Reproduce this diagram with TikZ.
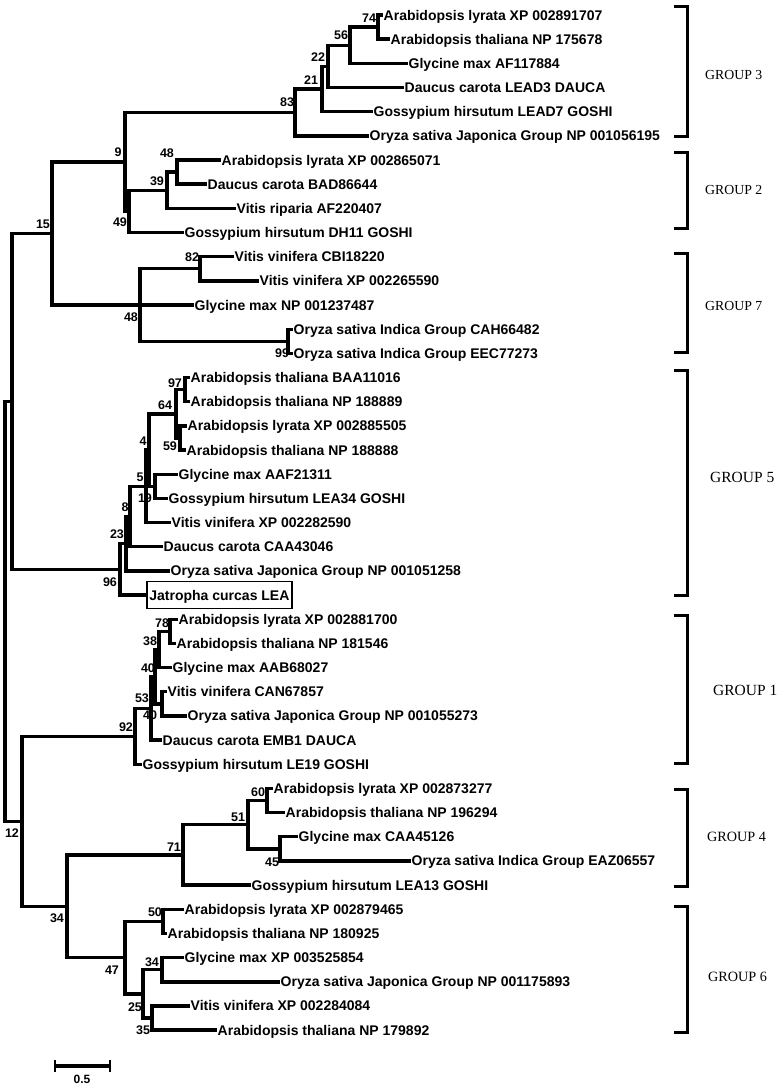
\documentclass[tikz,border=0pt]{standalone}
\usepackage{fontspec}
\setmainfont{Liberation Serif}
\newfontfamily\arialfont{Liberation Sans}

\begin{document}
\begin{tikzpicture}[x=1pt, y=-1pt,
    branch/.style={line width=3.4pt, line join=miter},
    bracket/.style={line width=3pt},
    tip/.style={anchor=west, inner sep=0.5pt, text height=10pt, text depth=0pt,
        font=\arialfont\bfseries\fontsize{14}{16}\selectfont},
    boot/.style={inner sep=0pt, font=\arialfont\bfseries\fontsize{12.5}{14}\selectfont},
    grp/.style={anchor=west, inner sep=0pt}]
    \useasboundingbox (0,0) rectangle (782,1087);
    % leaves: row / start of label / label
    \foreach \i/\xs/\lab in {1/383/Arabidopsis lyrata XP 002891707,
        2/390/Arabidopsis thaliana NP 175678, 3/408/Glycine max AF117884,
        4/404/Daucus carota LEAD3 DAUCA, 5/373/Gossypium hirsutum LEAD7 GOSHI,
        6/369/Oryza sativa Japonica Group NP 001056195,
        7/221/Arabidopsis lyrata XP 002865071, 8/207/Daucus carota BAD86644,
        9/236/Vitis riparia AF220407, 10/184/Gossypium hirsutum DH11 GOSHI,
        11/234/Vitis vinifera CBI18220, 12/259/Vitis vinifera XP 002265590,
        13/194/Glycine max NP 001237487, 14/293/Oryza sativa Indica Group CAH66482,
        15/293/Oryza sativa Indica Group EEC77273,
        16/190/Arabidopsis thaliana BAA11016, 17/190/Arabidopsis thaliana NP 188889,
        18/187/Arabidopsis lyrata XP 002885505, 19/186/Arabidopsis thaliana NP 188888,
        20/178/Glycine max AAF21311, 21/168/Gossypium hirsutum LEA34 GOSHI,
        22/171/Vitis vinifera XP 002282590, 23/163/Daucus carota CAA43046,
        24/170/Oryza sativa Japonica Group NP 001051258,
        26/178/Arabidopsis lyrata XP 002881700, 27/176/Arabidopsis thaliana NP 181546,
        28/172/Glycine max AAB68027, 29/167/Vitis vinifera CAN67857,
        30/187/Oryza sativa Japonica Group NP 001055273,
        31/162/Daucus carota EMB1 DAUCA, 32/142/Gossypium hirsutum LE19 GOSHI,
        33/273/Arabidopsis lyrata XP 002873277, 34/285/Arabidopsis thaliana NP 196294,
        35/298/Glycine max CAA45126, 36/411/Oryza sativa Indica Group EAZ06557,
        37/251/Gossypium hirsutum LEA13 GOSHI,
        38/184/Arabidopsis lyrata XP 002879465, 39/167/Arabidopsis thaliana NP 180925,
        40/184/Glycine max XP 003525854,
        41/280/Oryza sativa Japonica Group NP 001175893,
        42/190/Vitis vinifera XP 002284084, 43/217/Arabidopsis thaliana NP 179892} {
        \node[tip] (t\i) at (\xs, {15+24.17*(\i-1)}) {\lab};
    }
    % the boxed leaf
    \node[tip, draw, line width=1.8pt, inner xsep=2.5pt, inner ysep=8.5pt] (t25) at (146,595.08) {Jatropha curcas LEA};
    % inner nodes
    \foreach \n/\xx/\yy in {n74/378/27.09, n56/350/45.21, n22/328/66.36, n21/322/89.02,
        n83/295/112.43, n48a/177/172.1, n39/167/190.23, n49/129/211.38, n9/125/161.9,
        n82/200/268.79, n99/288/341.3, n48b/140/305.04, n15/52/233.47,
        n97/185/389.63, n59/180/437.98, n64/176/413.8, n19/155/486.31, n4/149/450.06,
        n5/146/486.31, n8/130/516.53, n23/126/543.72, n96/120/569.4, nA/12/401.43,
        n78/170/631.34, n38/159/649.46, n40b/162/703.84, n40a/155/676.65,
        n53/151/708.38, n92/135/736.32,
        n60/267/800.52, n45/280/848.86, n51/248/824.69, n71/183/854.9,
        n50/163/921.38, n34b/162/969.71, n35/152/1018.05, n25/143/993.88,
        n47/125/957.63, n34a/67/906.26, n12/22/821.29, root/5/611.36} {
        \coordinate (\n) at (\xx,\yy);
    }
    % branches, parent / child
    \foreach \p/\c in {n74/t1.west, n74/t2.west, n56/n74, n56/t3.west, n22/n56, n22/t4.west,
        n21/n22, n21/t5.west, n83/n21, n83/t6.west,
        n48a/t7.west, n48a/t8.west, n39/n48a, n39/t9.west, n49/n39, n49/t10.west,
        n9/n83, n9/n49,
        n82/t11.west, n82/t12.west, n99/t14.west, n99/t15.west,
        n48b/n82, n48b/t13.west, n48b/n99, n15/n9, n15/n48b,
        n97/t16.west, n97/t17.west, n59/t18.west, n59/t19.west, n64/n97, n64/n59,
        n19/t20.west, n19/t21.west, n4/n64, n4/n19, n5/n4, n5/t22.west,
        n8/n5, n8/t23.west, n23/n8, n23/t24.west, n96/n23, n96/t25.west,
        nA/n15, nA/n96,
        n78/t26.west, n78/t27.west, n38/n78, n38/t28.west, n40b/t29.west, n40b/t30.west,
        n40a/n38, n40a/n40b, n53/n40a, n53/t31.west, n92/n53, n92/t32.west,
        n60/t33.west, n60/t34.west, n45/t35.west, n45/t36.west, n51/n60, n51/n45,
        n71/n51, n71/t37.west,
        n50/t38.west, n50/t39.west, n34b/t40.west, n34b/t41.west, n35/t42.west,
        n35/t43.west, n25/n34b, n25/n35, n47/n50, n47/n25,
        n34a/n71, n34a/n47, n12/n92, n12/n34a, root/nA, root/n12} {
        \draw[branch] (\p) |- (\c);
    }
    % bootstrap values
    \foreach \n/\bx/\by/\v in {b74/369/18/74, b56/341/35/56, b22/318/57/22, b21/311/80/21,
        b83/287/102/83, b9/118/152/9, b48a/167/153/48, b39/157/181/39, b49/120/222/49,
        b15/43/224/15, b82/192/257/82, b48b/131/317/48, b99/282/353/99,
        b97/175/383/97, b64/165/405/64, b59/170/446/59, b4/143/441/4, b5/140/477/5,
        b19/145/498/19, b8/125/507/8, b23/117/534/23, b96/110/582/96,
        b78/162/623/78, b38/150/641/38, b40a/148/668/40, b53/142/698/53,
        b40b/150/715/40, b92/126/727/92,
        b60/258/792/60, b51/238/817/51, b45/272/862/45, b71/174/847/71,
        b12/12/833/12, b34a/57/918/34, b50/155/912/50, b34b/152/962/34,
        b47/112/970/47, b25/135/1007/25, b35/143/1030/35} {
        \node[boot] (\n) at (\bx,\by) {\v};
    }
    % groups: number / top / bottom / label x / label y / size
    \foreach \g/\ta/\tb/\gx/\gy/\fs in {3/6/136/705/75/13.8, 2/152/228/705/190/13.8,
        7/253/352/705/306/13.8, 5/370/595/710/477/15.5, 1/615/763/713/690/15.5,
        4/789/886/707/837/14.2, 6/906/1032/708/977/14.2} {
        \draw[bracket] (674,\ta) -- (687,\ta) -- (687,\tb) -- (674,\tb);
        \node[grp, font=\fontsize{\fs}{\fs}\selectfont] (g\g) at (\gx,\gy) {GROUP \g};
    }
    % scale bar
    \draw[branch] (55,1066) -- (110,1066);
    \draw[line width=2.5pt] (55,1060) -- (55,1072) (110,1060) -- (110,1072);
    \node[boot, font=\arialfont\bfseries\fontsize{12}{14}\selectfont] (sbar) at (82,1079) {0.5};
\end{tikzpicture}
\end{document}
